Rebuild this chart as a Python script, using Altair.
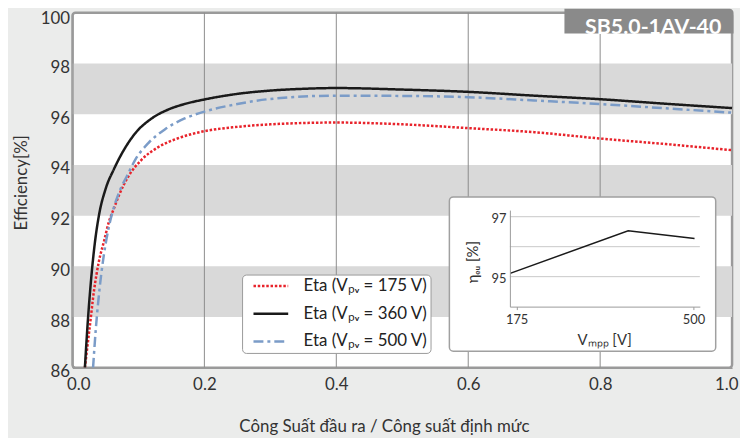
import altair as alt
import pandas as pd

# ---------------- values ----------------
series_labels = ["Eta (Vₚᵥ = 175 V)", "Eta (Vₚᵥ = 360 V)", "Eta (Vₚᵥ = 500 V)"]
series_colors = ["#e8232b", "#1a1a1a", "#7b9cc8"]
series_dashes = [[2.5, 1.8], [1, 0], [10, 4, 3, 4]]

load_175 = [0.0188, 0.0262, 0.0327, 0.0402, 0.0477, 0.0553, 0.0628, 0.0703, 0.0853, 0.105,
            0.130, 0.160, 0.2, 0.25, 0.3, 0.4, 0.5, 0.6, 0.7, 0.8, 0.9, 1.0]
eta_175 = [86.0, 87.62, 89.05, 90.21, 90.98, 91.76, 92.28, 92.79, 93.57, 94.21,
           94.70, 95.05, 95.33, 95.50, 95.60, 95.67, 95.60, 95.45, 95.29, 95.04, 94.82, 94.58]

load_360 = [0.0188, 0.0237, 0.029, 0.0342, 0.0402, 0.0502, 0.0628, 0.0753, 0.0953, 0.120,
            0.145, 0.170, 0.2, 0.25, 0.3, 0.35, 0.4, 0.5, 0.6, 0.7, 0.8, 0.9, 1.0]
eta_360 = [86.0, 88.0, 89.7, 90.98, 92.02, 93.05, 93.83, 94.47, 95.25, 95.83,
           96.18, 96.40, 96.58, 96.80, 96.93, 97.00, 97.03, 96.97, 96.88, 96.73, 96.59, 96.41, 96.24]

load_500 = [0.0312, 0.0353, 0.0413, 0.0477, 0.0553, 0.0653, 0.0728, 0.0828, 0.0953, 0.115,
            0.140, 0.170, 0.2, 0.25, 0.3, 0.4, 0.5, 0.6, 0.7, 0.8, 0.9, 1.0]
eta_500 = [86.0, 87.5, 89.17, 90.47, 91.57, 92.53, 93.05, 93.57, 94.21, 94.86,
           95.40, 95.83, 96.10, 96.40, 96.60, 96.73, 96.72, 96.67, 96.54, 96.40, 96.23, 96.06]

x_ticks = [0.0, 0.2, 0.4, 0.6, 0.8, 1.0]
y_ticks = [86, 88, 90, 92, 94, 96, 98, 100]
band_lo = [88, 92, 96]
band_hi = [90, 94, 98]
vlines = [0.2, 0.4, 0.6, 0.8]

model_name = "SB5.0-1AV-40"

# inset: European efficiency vs MPP voltage
inset_v = [163, 380, 502]
inset_eta = [95.11, 96.53, 96.27]
inset_grid = [95, 96, 97]
inset_xticks = [175, 500]
inset_yticks = [95, 97]
inset_xdomain = [162.6, 511.7]
inset_ydomain = [94.0, 97.22]

x_title = "Công Suất đầu ra / Công suất định mức"
y_title = "Efficiency[%]"
inset_x_title = "Vₘₚₚ [V]"
inset_y_title = "ηₑᵤ [%]"

# ---------------- layout ----------------
W, H = 665, 358
FONT = "Lato"
TXT = "#333333"

rows = []
for lab, xs, ys in zip(series_labels, [load_175, load_360, load_500], [eta_175, eta_360, eta_500]):
    for a, b in zip(xs, ys):
        rows.append({"series": lab, "load": a, "eta": b})
lines_df = pd.DataFrame(rows)
bands_df = pd.DataFrame({"x0": [0.0] * len(band_lo), "x1": [1.0] * len(band_lo), "lo": band_lo, "hi": band_hi})
vl_df = pd.DataFrame({"x": vlines})
title_df = pd.DataFrame({"label": [model_name]})
inset_df = pd.DataFrame({"v": inset_v, "eta": inset_eta})
igrid_df = pd.DataFrame({"eta": inset_grid, "v0": [inset_xdomain[0]] * 3, "v1": [inset_xdomain[1]] * 3})


def xs_main():
    return alt.Scale(domain=[0, 1], nice=False, zero=False)


def ys_main():
    return alt.Scale(domain=[86, 100], nice=False, zero=False)


def xs_in():
    return alt.Scale(domain=inset_xdomain, range=[441, 632.5], nice=False, zero=False)


def ys_in():
    return alt.Scale(domain=inset_ydomain, range=[296.3, 199], nice=False, zero=False)


main_x_axis = alt.Axis(orient="bottom", values=x_ticks, format=".1f", ticks=False, grid=False,
                       domainColor="#9a9a9a", domainWidth=1.5,
                       labelFont=FONT, labelFontSize=17, labelColor=TXT, labelPadding=9,
                       labelFlush=True, labelFlushOffset=6,
                       title=x_title, titleFont=FONT, titleFontSize=17, titleFontWeight="normal",
                       titleColor=TXT, titleX=314, titleY=59.5, titleBaseline="middle",
                       titleAlign="center", zindex=1)
main_y_axis = alt.Axis(orient="left", values=y_ticks, format="d", ticks=False, grid=False,
                       domainColor="#9a9a9a", domainWidth=1.5,
                       labelFont=FONT, labelFontSize=17, labelColor=TXT, labelPadding=3,
                       labelOffset={"condition": {"test": "datum.value == 100", "value": 6}, "value": 4},
                       title=y_title, titleFont=FONT, titleFontSize=17, titleFontWeight="normal",
                       titleColor=TXT, titleAngle=270, titleX=-51, titleY=171,
                       titleBaseline="middle", titleAlign="center", zindex=1)

bands = alt.Chart(bands_df).mark_rect(color="#d9d9d9").encode(
    x=alt.X("x0:Q", scale=xs_main(), axis=main_x_axis),
    x2="x1:Q",
    y=alt.Y("lo:Q", scale=ys_main(), axis=main_y_axis),
    y2="hi:Q",
)

vrules = alt.Chart(vl_df).mark_rule(color="#8c8c8c", strokeWidth=1).encode(
    x=alt.X("x:Q", scale=xs_main(), axis=None)
)

legend = alt.Legend(title=None, orient="none", legendX=171, legendY=264, direction="vertical",
                    fillColor="white", strokeColor="#9a9a9a", cornerRadius=4, padding=3,
                    symbolType="stroke", symbolSize=1225, symbolStrokeWidth=2.5, symbolOffset=7,
                    clipHeight=17,
                    labelFont=FONT, labelFontSize=17, labelColor="#222222", labelOffset=14,
                    rowPadding=10, zindex=1)

curves = alt.Chart(lines_df).mark_line(strokeWidth=2.5, interpolate="monotone").encode(
    x=alt.X("load:Q", scale=xs_main(), axis=None),
    y=alt.Y("eta:Q", scale=ys_main(), axis=None),
    color=alt.Color("series:N", scale=alt.Scale(domain=series_labels, range=series_colors), legend=legend),
    strokeDash=alt.StrokeDash("series:N", scale=alt.Scale(domain=series_labels, range=series_dashes), legend=legend),
    order=alt.Order("load:Q"),
)

title_box = alt.Chart(title_df).mark_rect(fill="#8a8a8a", cornerRadiusTopRight=4).encode(
    x=alt.value(496), x2=alt.value(666.5), y=alt.value(-4), y2=alt.value(21)
)
title_text = alt.Chart(title_df).mark_text(font=FONT, fontSize=21.5, fontWeight="bold", color="white",
                                           align="center", baseline="alphabetic").encode(
    x=alt.value(585.5), y=alt.value(21.5), text="label:N"
)

# ---------------- inset ----------------
inset_x_axis = alt.Axis(orient="bottom", offset=-61.7, values=inset_xticks, format="d",
                        ticks=True, tickSize=3, tickColor="#9a9a9a", domainColor="#9a9a9a", grid=False,
                        labelFont=FONT, labelFontSize=13, labelColor=TXT, labelPadding=4,
                        title=inset_x_title, titleFont=FONT, titleFontSize=15, titleFontWeight="normal",
                        titleColor=TXT, titleX=536, titleY=33, titleBaseline="middle",
                        titleAlign="center", zindex=2)
inset_y_axis = alt.Axis(orient="left", offset=-441, values=inset_yticks, format="d",
                        ticks=False, domainColor="#9a9a9a", grid=False,
                        labelFont=FONT, labelFontSize=13, labelColor=TXT, labelPadding=4, labelOffset=2,
                        title=inset_y_title, titleFont=FONT, titleFontSize=15, titleFontWeight="normal",
                        titleColor=TXT, titleAngle=270, titleX=-38, titleY=251,
                        titleBaseline="middle", titleAlign="center", zindex=2)

inset_box = alt.Chart(title_df).mark_rect(fill="white", stroke="#a0a0a0", strokeWidth=1.5, cornerRadius=4).encode(
    x=alt.value(380), x2=alt.value(648.5), y=alt.value(185.7), y2=alt.value(341.3)
)
inset_gridrules = alt.Chart(igrid_df).mark_rule(color="#c8c8c8", strokeWidth=1).encode(
    x=alt.X("v0:Q", scale=xs_in(), axis=inset_x_axis),
    x2="v1:Q",
    y=alt.Y("eta:Q", scale=ys_in(), axis=inset_y_axis),
)
inset_line = alt.Chart(inset_df).mark_line(color="#1a1a1a", strokeWidth=1.5).encode(
    x=alt.X("v:Q", scale=xs_in(), axis=None),
    y=alt.Y("eta:Q", scale=ys_in(), axis=None),
)

chart = alt.layer(
    bands, vrules, curves, title_box, title_text, inset_box, inset_gridrules, inset_line
).resolve_scale(x="independent", y="independent").properties(
    width=W, height=H,
    padding={"left": 65, "top": 3, "right": 8, "bottom": 69},
    autosize=alt.AutoSizeParams(type="none"),
    background="#ebeceb",
).configure_view(stroke="#9a9a9a", strokeWidth=2.5, fill="white", cornerRadius=3)

chart.save("out.html", embed_options={"renderer": "svg", "actions": False})
